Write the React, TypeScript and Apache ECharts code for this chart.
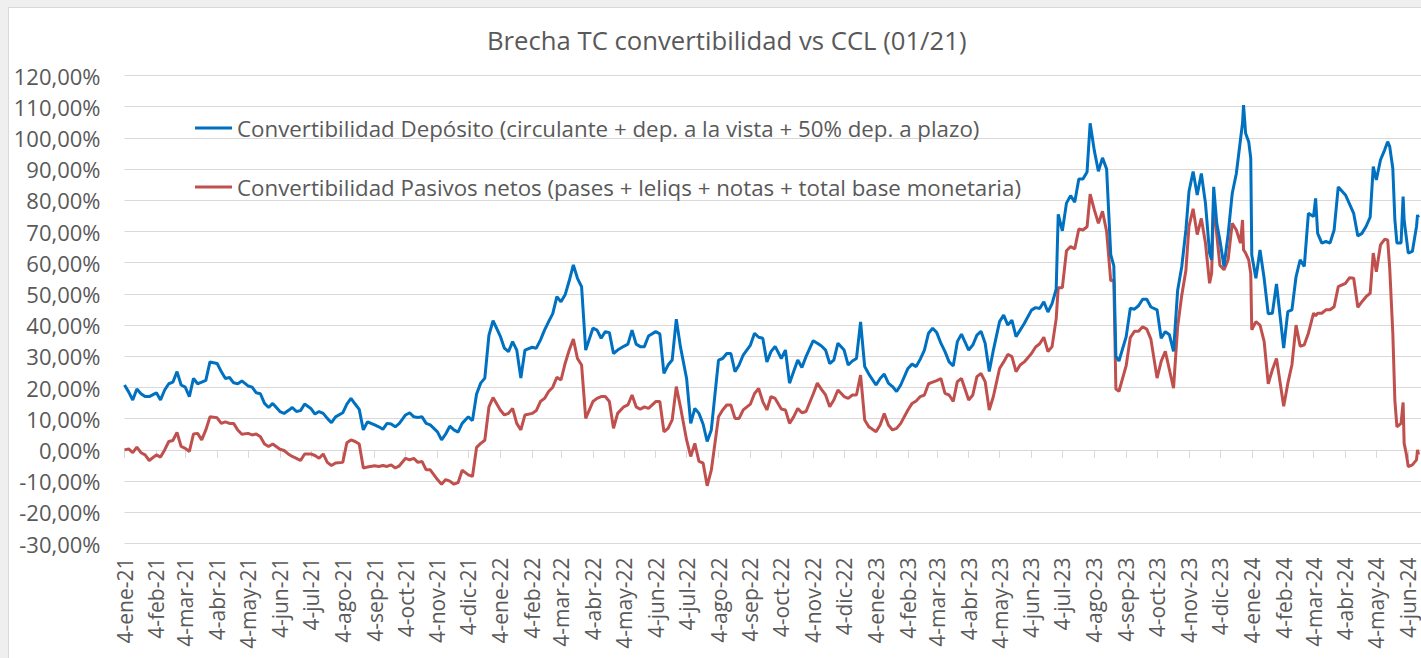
import React, { useEffect, useRef } from "react";
import * as echarts from "echarts";

const TITLE = "Brecha TC convertibilidad vs CCL (01/21)";
const SERIES_DEPOSITO = "Convertibilidad Depósito (circulante + dep. a la vista + 50% dep. a plazo)";
const SERIES_PASIVOS = "Convertibilidad Pasivos netos (pases + leliqs + notas + total base monetaria)";

const MONTHS_ES = ["ene", "feb", "mar", "abr", "may", "jun", "jul", "ago", "sep", "oct", "nov", "dic"];

const tickDates = [
  "2021-01-04", "2021-02-04", "2021-03-04", "2021-04-04", "2021-05-04", "2021-06-04",
  "2021-07-04", "2021-08-04", "2021-09-04", "2021-10-04", "2021-11-04", "2021-12-04",
  "2022-01-04", "2022-02-04", "2022-03-04", "2022-04-04", "2022-05-04", "2022-06-04",
  "2022-07-04", "2022-08-04", "2022-09-04", "2022-10-04", "2022-11-04", "2022-12-04",
  "2023-01-04", "2023-02-04", "2023-03-04", "2023-04-04", "2023-05-04", "2023-06-04",
  "2023-07-04", "2023-08-04", "2023-09-04", "2023-10-04", "2023-11-04", "2023-12-04",
  "2024-01-04", "2024-02-04", "2024-03-04", "2024-04-04", "2024-05-04", "2024-06-04",
];

const dates = [
  "2021-01-04","2021-01-08","2021-01-12","2021-01-16","2021-01-20","2021-01-24","2021-01-28",
  "2021-02-04","2021-02-08","2021-02-12","2021-02-16","2021-02-20","2021-02-24","2021-02-28",
  "2021-03-04","2021-03-08","2021-03-12","2021-03-16","2021-03-20","2021-03-24","2021-03-28",
  "2021-04-04","2021-04-08","2021-04-12","2021-04-16","2021-04-20","2021-04-24","2021-04-28",
  "2021-05-04","2021-05-08","2021-05-12","2021-05-16","2021-05-20","2021-05-24","2021-05-28",
  "2021-06-04","2021-06-08","2021-06-12","2021-06-16","2021-06-20","2021-06-24","2021-06-28",
  "2021-07-04","2021-07-08","2021-07-12","2021-07-16","2021-07-20","2021-07-24","2021-07-28",
  "2021-08-04","2021-08-08","2021-08-12","2021-08-16","2021-08-20","2021-08-24","2021-08-28",
  "2021-09-04","2021-09-08","2021-09-12","2021-09-16","2021-09-20","2021-09-24","2021-09-28",
  "2021-10-04","2021-10-08","2021-10-12","2021-10-16","2021-10-20","2021-10-24","2021-10-28",
  "2021-11-04","2021-11-08","2021-11-12","2021-11-16","2021-11-20","2021-11-24","2021-11-28",
  "2021-12-04","2021-12-08","2021-12-12","2021-12-16","2021-12-20","2021-12-24","2021-12-28",
  "2022-01-04","2022-01-08","2022-01-12","2022-01-16","2022-01-20","2022-01-24","2022-01-28",
  "2022-02-04","2022-02-08","2022-02-12","2022-02-16","2022-02-20","2022-02-24","2022-02-28",
  "2022-03-04","2022-03-08","2022-03-12","2022-03-16","2022-03-20","2022-03-24","2022-03-28",
  "2022-04-04","2022-04-08","2022-04-12","2022-04-16","2022-04-20","2022-04-24","2022-04-28",
  "2022-05-04","2022-05-08","2022-05-12","2022-05-16","2022-05-20","2022-05-24","2022-05-28",
  "2022-06-04","2022-06-08","2022-06-12","2022-06-16","2022-06-20","2022-06-24","2022-06-28",
  "2022-07-04","2022-07-08","2022-07-12","2022-07-16","2022-07-20","2022-07-24","2022-07-28",
  "2022-08-04","2022-08-08","2022-08-12","2022-08-16","2022-08-20","2022-08-24","2022-08-28",
  "2022-09-04","2022-09-08","2022-09-12","2022-09-16","2022-09-20","2022-09-24","2022-09-28",
  "2022-10-04","2022-10-08","2022-10-12","2022-10-16","2022-10-20","2022-10-24","2022-10-28",
  "2022-11-04","2022-11-08","2022-11-12","2022-11-16","2022-11-20","2022-11-24","2022-11-28",
  "2022-12-04","2022-12-08","2022-12-12","2022-12-16","2022-12-20","2022-12-24","2022-12-28",
  "2023-01-04","2023-01-08","2023-01-12","2023-01-16","2023-01-20","2023-01-24","2023-01-28",
  "2023-02-04","2023-02-08","2023-02-12","2023-02-16","2023-02-20","2023-02-24","2023-02-28",
  "2023-03-04","2023-03-08","2023-03-12","2023-03-16","2023-03-20","2023-03-24","2023-03-28",
  "2023-04-04","2023-04-08","2023-04-12","2023-04-16","2023-04-20","2023-04-24","2023-04-28",
  "2023-05-04","2023-05-08","2023-05-12","2023-05-16","2023-05-20","2023-05-24","2023-05-28",
  "2023-06-04","2023-06-08","2023-06-12","2023-06-16","2023-06-20","2023-06-24","2023-06-28","2023-06-30",
  "2023-07-04","2023-07-08","2023-07-12","2023-07-16","2023-07-20","2023-07-24","2023-07-28","2023-07-31",
  "2023-08-04","2023-08-08","2023-08-12","2023-08-16","2023-08-20","2023-08-23","2023-08-25","2023-08-28",
  "2023-09-04","2023-09-08","2023-09-12","2023-09-16","2023-09-20","2023-09-24","2023-09-28",
  "2023-10-04","2023-10-08","2023-10-12","2023-10-16","2023-10-20","2023-10-24","2023-10-28",
  "2023-11-01","2023-11-04","2023-11-08","2023-11-12","2023-11-16","2023-11-20","2023-11-24","2023-11-26","2023-11-28",
  "2023-12-01","2023-12-04","2023-12-08","2023-12-12","2023-12-16","2023-12-20","2023-12-24","2023-12-26","2023-12-27","2023-12-29",
  "2024-01-01","2024-01-03","2024-01-04","2024-01-08","2024-01-12","2024-01-16","2024-01-20","2024-01-24","2024-01-28",
  "2024-02-04","2024-02-08","2024-02-12","2024-02-16","2024-02-20","2024-02-24","2024-02-28",
  "2024-03-04","2024-03-06","2024-03-08","2024-03-12","2024-03-16","2024-03-20","2024-03-24","2024-03-28",
  "2024-04-04","2024-04-08","2024-04-12","2024-04-16","2024-04-20","2024-04-24","2024-04-28",
  "2024-05-01","2024-05-04","2024-05-08","2024-05-12","2024-05-15","2024-05-17","2024-05-20","2024-05-22","2024-05-24","2024-05-28","2024-05-30","2024-05-31",
  "2024-06-02","2024-06-04","2024-06-08","2024-06-12","2024-06-13","2024-06-14",
];

const depositoValues = [
  20.8,18.6,16.0,19.5,18.0,17.1,17.1,
  18.3,16.0,19.2,21.2,21.7,25.1,20.8,
  20.1,17.1,22.9,21.2,21.7,22.3,28.2,
  27.7,25.1,22.9,23.2,21.5,21.2,22.1,
  20.5,20.1,18.3,18.0,14.9,13.6,14.9,
  12.3,11.7,12.6,13.6,12.3,12.6,14.7,
  13.3,11.5,12.3,11.7,10.1,8.7,10.6,
  11.9,14.7,16.5,14.7,13.0,6.4,9.0,
  8.0,7.4,6.6,8.5,8.3,7.4,8.5,
  11.2,11.9,10.6,10.4,10.6,8.5,8.0,
  5.8,3.2,5.1,7.6,6.4,5.7,8.5,
  10.6,9.4,17.9,21.4,23.0,36.8,41.4,
  36.5,32.6,31.5,34.7,32.0,23.0,32.0,
  32.9,32.6,35.2,38.4,41.1,43.7,49.1,
  47.5,49.7,54.2,59.3,55.0,52.3,32.0,
  39.0,38.4,35.8,37.9,37.6,30.9,32.0,
  33.2,33.9,38.4,33.9,33.1,33.1,36.5,
  37.9,37.2,24.5,27.2,28.8,41.9,33.1,
  22.9,8.5,13.3,11.7,8.3,2.7,6.4,
  28.8,29.3,30.9,30.9,25.1,27.2,30.4,
  33.6,37.4,36.1,35.8,28.2,31.5,33.2,
  29.3,32.0,21.4,25.1,28.8,26.4,29.9,
  35.0,34.2,33.3,32.0,27.7,28.8,34.2,
  32.0,27.2,28.5,29.3,41.0,26.7,24.3,
  20.8,22.9,24.3,21.4,20.3,18.7,20.8,
  26.1,27.5,26.7,29.1,32.0,37.4,39.0,
  37.6,34.2,31.5,28.2,26.9,34.7,37.1,
  32.0,33.6,36.8,38.0,34.2,25.1,32.0,
  41.1,43.2,40.0,41.6,36.3,38.4,40.5,
  44.8,45.6,45.3,47.5,44.2,46.9,51.5,75.5,
  70.2,79.1,81.5,79.4,86.8,86.8,89.1,104.7,
  96.0,89.3,93.6,90.0,62.6,59.0,30.0,28.5,
  36.3,45.4,45.1,46.2,48.3,48.3,45.8,
  44.9,35.8,37.9,36.9,31.6,51.2,58.8,
  70.5,82.8,89.2,81.7,88.6,79.1,63.1,60.9,84.3,
  72.6,67.3,58.8,69.0,82.2,88.6,99.4,104.7,110.5,101.5,
  98.8,93.5,62.5,55.0,64.1,55.0,43.6,43.8,53.2,
  32.6,44.3,44.9,55.5,60.9,58.8,75.8,
  74.8,80.6,69.4,66.3,66.8,66.3,70.5,84.3,
  81.7,78.8,75.8,68.6,69.4,71.6,74.6,
  90.8,86.5,92.9,96.1,98.8,97.2,90.2,73.7,66.3,66.3,81.2,73.7,
  68.4,63.1,63.6,71.6,75.3,74.5,
];

const pasivosValues = [
  0.0,0.3,-0.9,0.9,-0.9,-1.6,-3.4,
  -1.6,-2.3,0.0,2.7,3.0,5.6,1.1,
  0.5,-0.5,5.1,5.3,3.2,6.4,10.6,
  10.3,8.5,9.0,8.5,8.5,6.4,5.0,
  5.3,4.8,5.1,4.2,1.9,1.1,1.9,
  0.2,-0.2,-1.3,-2.1,-2.7,-3.4,-1.3,
  -1.3,-1.8,-2.7,-1.3,-4.0,-5.0,-4.2,
  -4.0,2.3,3.2,2.7,1.9,-5.8,-5.5,
  -5.1,-5.3,-5.0,-5.3,-4.8,-5.8,-5.1,
  -2.7,-3.2,-2.7,-4.0,-3.7,-6.4,-6.4,
  -9.5,-11.0,-9.5,-10.0,-11.0,-10.5,-6.5,
  -8.0,-8.5,0.8,2.1,3.1,13.8,16.8,
  12.8,11.2,11.7,13.3,8.5,6.4,11.2,
  11.7,12.6,15.5,16.5,18.7,20.1,23.3,
  22.4,27.7,32.0,35.5,29.3,27.2,10.1,
  15.5,16.5,17.1,17.1,15.5,6.9,11.7,
  13.8,14.4,17.6,13.8,13.0,13.8,13.3,
  15.5,15.5,5.8,6.9,9.6,20.3,13.8,
  3.2,-2.1,2.1,-3.7,-4.2,-11.5,-6.5,
  10.6,12.8,14.4,14.4,10.1,10.1,12.8,
  14.7,18.1,19.7,15.5,12.8,17.1,16.5,
  13.1,12.8,8.5,10.6,13.3,11.9,12.3,
  17.9,21.4,19.4,17.6,13.8,16.0,19.2,
  17.1,16.5,17.6,17.6,24.0,9.6,7.4,
  5.8,8.0,11.7,8.0,6.4,6.9,8.5,
  12.8,14.9,15.7,17.1,17.6,21.2,21.7,
  22.2,22.9,18.1,17.6,15.5,21.9,22.9,
  16.0,17.6,23.5,24.5,21.9,12.8,17.1,
  26.1,28.2,30.6,29.9,25.1,27.2,28.2,
  30.9,33.0,34.0,36.1,31.5,33.1,42.0,52.0,
  52.0,63.8,65.2,64.4,70.8,70.5,71.5,82.0,
  77.0,72.6,76.5,70.0,54.2,54.5,19.5,18.8,
  27.0,36.0,38.0,38.0,39.5,38.7,35.5,
  23.0,28.4,31.6,25.7,19.8,39.5,49.6,
  57.5,71.6,77.3,69.0,74.2,66.3,53.4,56.6,80.1,
  69.0,59.2,57.7,60.9,72.6,70.5,66.3,73.7,64.1,63.1,
  60.9,56.5,38.5,41.1,40.0,34.8,21.2,25.7,29.3,
  14.0,21.3,27.3,40.0,33.2,33.7,37.4,
  43.8,43.0,43.8,43.8,44.9,44.9,45.9,52.3,
  53.4,55.2,55.0,45.7,47.5,49.1,50.2,
  63.1,57.1,65.7,67.5,67.3,58.2,37.4,15.8,7.4,8.5,15.2,2.1,
  -1.1,-5.4,-4.8,-3.2,0.0,-1.5,
];

const Y_MIN = -30;
const Y_MAX = 120;
const Y_STEP = 10;

const FONT = "'Open Sans', 'Liberation Sans', sans-serif";
const TEXT_COLOR = "#595959";
const GRID_COLOR = "#d9d9d9";

function formatTick(v: number): string {
  const d = new Date(v);
  return `${d.getUTCDate()}-${MONTHS_ES[d.getUTCMonth()]}-${String(d.getUTCFullYear()).slice(2)}`;
}

function formatPct(v: number): string {
  return v.toFixed(2).replace(".", ",") + "%";
}

export default function App() {
  const ref = useRef<HTMLDivElement>(null);

  useEffect(() => {
    if (!ref.current) return;
    const chart = echarts.init(ref.current, undefined, { renderer: "svg" });
    const tickValues = tickDates.map((d) => Date.parse(d));
    const xMin = Date.parse("2021-01-04T00:00:00Z");
    const xMax = Date.parse("2024-06-16T09:00:00Z");
    const depData = dates.map((d, i) => [Date.parse(d), depositoValues[i]]);
    const pasData = dates.map((d, i) => [Date.parse(d), pasivosValues[i]]);

    const legendCommon = {
      orient: "horizontal",
      left: 195,
      padding: 0,
      icon: "rect",
      itemWidth: 37,
      itemHeight: 3,
      itemGap: 0,
      selectedMode: false,
      textStyle: { fontFamily: FONT, fontSize: 22.3, color: TEXT_COLOR, lineHeight: 26 },
    };

    chart.setOption({
      animation: false,
      title: {
        text: TITLE,
        left: 487,
        top: 27,
        padding: 0,
        textStyle: { fontFamily: FONT, fontSize: 25.7, fontWeight: "normal", color: TEXT_COLOR },
      },
      legend: [
        { ...legendCommon, top: 115, data: [SERIES_DEPOSITO] },
        { ...legendCommon, top: 174, data: [SERIES_PASIVOS] },
      ],
      grid: { left: 124.5, top: 75.5, right: 0, height: 468 },
      xAxis: [
        {
          type: "value",
          min: xMin,
          max: xMax,
          position: "bottom",
          axisLine: { show: false, onZero: false },
          axisTick: { show: false },
          splitLine: { show: false },
          axisLabel: {
            customValues: tickValues,
            formatter: (v: number) => formatTick(v),
            rotate: 90,
            margin: 14,
            fontFamily: FONT,
            fontSize: 21,
            lineHeight: 18,
            color: TEXT_COLOR,
          },
        },
        {
          type: "value",
          min: xMin,
          max: xMax,
          position: "bottom",
          axisLine: { show: true, onZero: true, lineStyle: { color: GRID_COLOR, width: 1 } },
          axisTick: { show: true, customValues: tickValues, length: 8, lineStyle: { color: GRID_COLOR, width: 1 } },
          axisLabel: { show: false },
          splitLine: { show: false },
        },
      ],
      yAxis: {
        type: "value",
        min: Y_MIN,
        max: Y_MAX,
        interval: Y_STEP,
        axisLine: { show: false },
        axisTick: { show: false },
        splitLine: { show: true, lineStyle: { color: GRID_COLOR, width: 1 } },
        axisLabel: {
          formatter: (v: number) => formatPct(v),
          margin: 24,
          fontFamily: FONT,
          fontSize: 22,
          color: TEXT_COLOR,
        },
      },
      series: [
        {
          name: SERIES_DEPOSITO,
          type: "line",
          data: depData,
          showSymbol: false,
          symbol: "none",
          lineStyle: { color: "#0070C0", width: 3 },
          itemStyle: { color: "#0070C0" },
          z: 3,
        },
        {
          name: SERIES_PASIVOS,
          type: "line",
          data: pasData,
          showSymbol: false,
          symbol: "none",
          lineStyle: { color: "#C0504D", width: 3 },
          itemStyle: { color: "#C0504D" },
          z: 2,
        },
      ],
    });
    return () => chart.dispose();
  }, []);

  return (
    <div style={{ position: "absolute", left: 0, top: 0, width: 1421, height: 658, background: "#efefef", overflow: "hidden" }}>
      <div
        style={{
          position: "absolute",
          left: 8,
          top: 7,
          right: 0,
          bottom: 0,
          background: "#ffffff",
          borderLeft: "1px solid #d9d9d9",
          borderTop: "1px solid #d9d9d9",
        }}
      />
      <div ref={ref} style={{ position: "absolute", left: 0, top: 0, width: 1421, height: 658 }} />
    </div>
  );
}
